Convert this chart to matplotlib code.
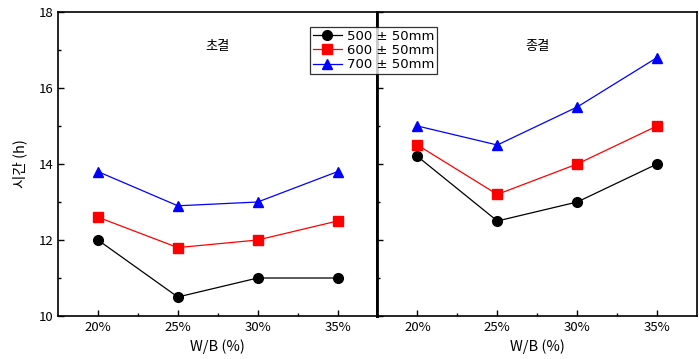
import numpy as np
import matplotlib.pyplot as plt
from matplotlib.ticker import MultipleLocator, FixedLocator

plt.rcParams['font.family'] = ['Noto Sans CJK KR', 'DejaVu Sans']

categories = ['20%', '25%', '30%', '35%']
series_labels = ['500 ± 50mm', '600 ± 50mm', '700 ± 50mm']

# 초결 (initial set)
initial_500 = [12.0, 10.5, 11.0, 11.0]
initial_600 = [12.6, 11.8, 12.0, 12.5]
initial_700 = [13.8, 12.9, 13.0, 13.8]

# 종결 (final set)
final_500 = [14.2, 12.5, 13.0, 14.0]
final_600 = [14.5, 13.2, 14.0, 15.0]
final_700 = [15.0, 14.5, 15.5, 16.8]

colors = ['black', 'red', 'blue']
markers = ['o', 's', '^']

fig = plt.figure(figsize=(6.99, 3.59), dpi=100)
left, right, bottom, top = 58/699, 697/699, 1-316/359, 1-12/359
w = (right - left) / 2
ax1 = fig.add_axes([left, bottom, w, top - bottom])
ax2 = fig.add_axes([left + w, bottom, w, top - bottom], sharey=ax1)

x = np.arange(len(categories))
panels = [(ax1, [initial_500, initial_600, initial_700], '초결'),
          (ax2, [final_500, final_600, final_700], '종결')]

handles = []
for ax, data, title in panels:
    for vals, c, m, lab in zip(data, colors, markers, series_labels):
        h, = ax.plot(x, vals, color=c, marker=m, markersize=7, lw=0.9, label=lab)
        if ax is ax1:
            handles.append(h)
    ax.set_xlim(-0.5, 3.5)
    ax.set_xticks(x)
    ax.set_xticklabels(categories)
    ax.xaxis.set_minor_locator(FixedLocator([0.5, 1.5, 2.5]))
    ax.set_xlabel('W/B (%)', fontsize=10.5, labelpad=4)
    ax.text(0.5, 0.885, title, transform=ax.transAxes, ha='center', va='center', fontsize=9.5)
    ax.tick_params(which='both', direction='in', top=False, right=False, labelsize=9.5)
    ax.tick_params(which='major', length=4, width=1)
    ax.tick_params(which='minor', length=2.5, width=1)
    for s in ax.spines.values():
        s.set_linewidth(1.2)

ax1.set_ylim(10, 18)
ax1.yaxis.set_major_locator(MultipleLocator(2))
ax1.yaxis.set_minor_locator(MultipleLocator(1))
ax1.set_ylabel('시간 (h)', fontsize=10.5, labelpad=8)
ax1.spines['right'].set_linewidth(2)
ax2.spines['left'].set_linewidth(2)
ax2.tick_params(axis='y', labelleft=False)

leg = fig.legend(handles=handles, loc='upper left', bbox_to_anchor=(310/699, 1-27/359),
                 prop={'family': 'DejaVu Sans', 'size': 9.5}, frameon=True, fancybox=False,
                 edgecolor='black', handlelength=2.2, handletextpad=0.4, borderpad=0.2,
                 labelspacing=0.1, borderaxespad=0)
leg.get_frame().set_linewidth(0.9)

fig.savefig('out.png', dpi=100)
